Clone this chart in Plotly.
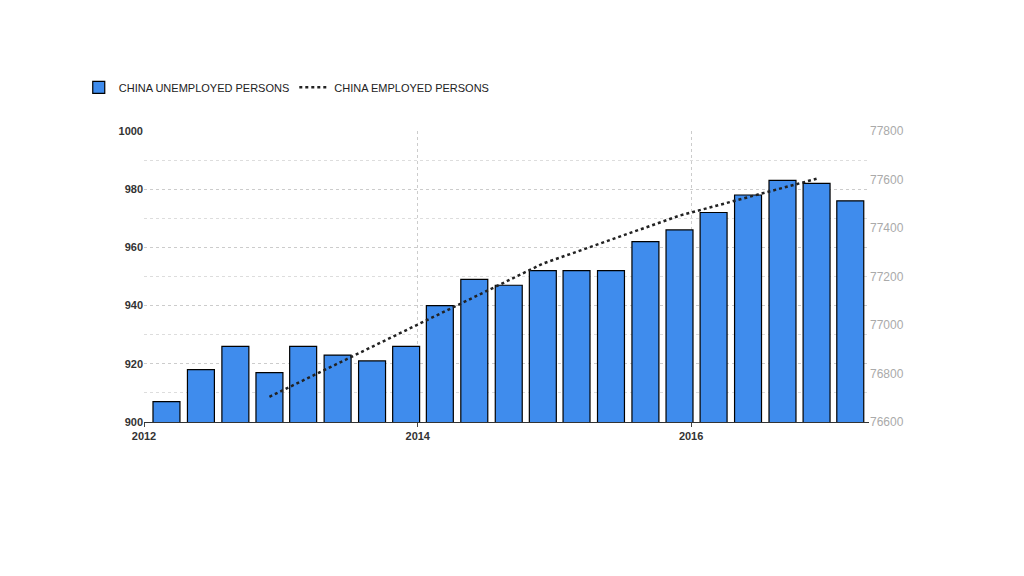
import plotly.graph_objects as go

bar_dates = ["2012-03-01","2012-06-01","2012-09-01","2012-12-01","2013-03-01","2013-06-01","2013-09-01",
             "2013-12-01","2014-03-01","2014-06-01","2014-09-01","2014-12-01","2015-03-01","2015-06-01",
             "2015-09-01","2015-12-01","2016-03-01","2016-06-01","2016-09-01","2016-12-01","2017-03-01"]
unemployed = [907, 918, 926, 917, 926, 923, 921, 926, 940, 949, 947, 952, 952, 952, 962, 966, 972, 978, 983, 982, 976]
line_dates = ["2012-12-01","2013-12-01","2014-12-01","2015-12-01","2016-12-01"]
employed = [76704, 76977, 77253, 77451, 77603]

fig = go.Figure()
fig.add_trace(go.Bar(x=bar_dates, y=unemployed, name="CHINA UNEMPLOYED PERSONS",
                     marker=dict(color="#3f8ced", line=dict(color="#000000", width=1.2)),
                     width=1000*3600*24*72))
fig.add_trace(go.Scatter(x=line_dates, y=employed, name="CHINA EMPLOYED PERSONS", yaxis="y2",
                         mode="lines", line=dict(color="#222222", width=2.5, dash="dot")))
grid = dict(showgrid=True, gridcolor="#cccccc", griddash="dot", gridwidth=1)
fig.update_layout(
    width=1024, height=576, plot_bgcolor="white", paper_bgcolor="white",
    margin=dict(l=136, r=163, t=123, b=162),
    font=dict(family="Liberation Sans, Arial", size=11, color="#333333"),
    bargap=0.2, showlegend=True,
    legend=dict(orientation="h", x=-0.09, y=1.15, xanchor="left", yanchor="middle",
                font=dict(size=11, color="#222222"), itemwidth=30),
    xaxis=dict(type="date", range=["2012-01-01","2017-04-20"], tickvals=["2012-01-01","2014-01-01","2016-01-01"],
               ticktext=["<b>2012</b>","<b>2014</b>","<b>2016</b>"], tickfont=dict(color="#333333", size=11),
               showline=True, linecolor="#333333", ticks="outside", ticklen=4, **grid),
    yaxis=dict(range=[900, 1000], dtick=20, tickfont=dict(color="#333333", size=11),
               tickvals=[900,920,940,960,980,1000], ticktext=["<b>%d</b>" % v for v in [900,920,940,960,980,1000]],
               minor=dict(dtick=10, showgrid=True, gridcolor="#dddddd", griddash="dot"), **grid),
    yaxis2=dict(range=[76600, 77800], dtick=200, overlaying="y", side="right", tickformat="d",
                tickfont=dict(color="#aaaaaa", size=12), showgrid=False),
)
fig.write_html("out.html")
